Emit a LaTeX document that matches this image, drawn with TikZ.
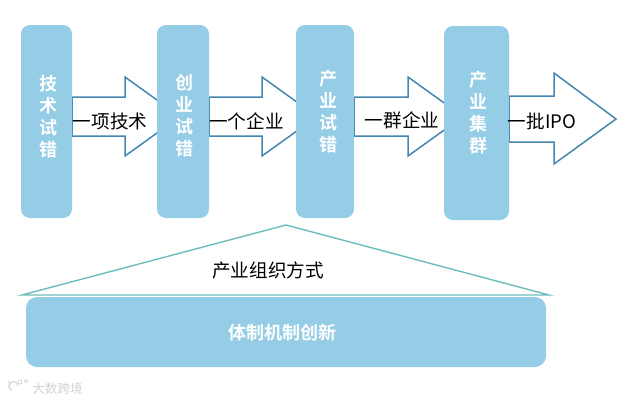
\documentclass[tikz,border=0pt]{standalone}
\usepackage{fontspec}
\newfontfamily\cjk{Noto Sans CJK SC}
\newfontfamily\cjkb{Noto Sans CJK SC Bold}
\usetikzlibrary{backgrounds}
\definecolor{boxblue}{HTML}{94CDE5}
\definecolor{arrowblue}{HTML}{4586B0}
\definecolor{roofteal}{HTML}{6DBDBD}
\definecolor{markgray}{HTML}{D2D2D2}
\tikzset{
  x=1pt,y=-1pt,
  panel/.style={fill=boxblue,rounded corners=9pt,inner sep=0pt,text=white},
  blockarrow/.style={draw=arrowblue,line width=1.5pt,fill=white,line join=miter},
  roof/.style={draw=roofteal,line width=1.4pt,fill=white,line join=miter},
  flowlabel/.style={font=\cjk\fontsize{18.6}{22}\selectfont,text=black,inner sep=0pt},
  panellabel/.style={font=\cjkb\fontsize{18}{22}\selectfont,text=white,align=center,inner sep=0pt},
  wmark/.style={font=\cjk\fontsize{12.6}{14}\selectfont,text=markgray,inner sep=0pt},
}
\begin{document}
\begin{tikzpicture}
\useasboundingbox (0,0) rectangle (625,400);
% panels
\node[panel,minimum width=51pt,minimum height=193pt] (b1) at (46.5,121.5) {};
\node[panel,minimum width=52pt,minimum height=193pt] (b2) at (183,121.5) {};
\node[panel,minimum width=58pt,minimum height=193pt] (b3) at (325,121.5) {};
\node[panel,minimum width=65pt,minimum height=194pt] (b4) at (476.5,123) {};
\node[panel,rounded corners=11pt,minimum width=520pt,minimum height=70pt] (base) at (286,332) {};
% panel texts
\node[panellabel] (t1) at (48,117) {技\\术\\试\\错};
\node[panellabel] (t2) at (184.5,116) {创\\业\\试\\错};
\node[panellabel] (t3) at (328,112) {产\\业\\试\\错};
\node[panellabel] (t4) at (478,113) {产\\业\\集\\群};
\node[panellabel] (t5) at (282,333) {体制机制创新};
% block arrows, behind the panels
\begin{pgfonlayer}{background}
\draw[blockarrow] (b1.east |- 0,97) -- (125,97) -- (125,77) -- (180,116.5) -- (125,156) -- (125,136) -- (b1.east |- 0,136) -- cycle;
\draw[blockarrow] (b2.east |- 0,97) -- (262,97) -- (262,77) -- (317,116.5) -- (262,156) -- (262,136) -- (b2.east |- 0,136) -- cycle;
\draw[blockarrow] (b3.east |- 0,97) -- (408,97) -- (408,77) -- (463,116.5) -- (408,156) -- (408,136) -- (b3.east |- 0,136) -- cycle;
\draw[blockarrow] (b4.east |- 0,96) -- (554,96) -- (554,73) -- (616,119) -- (554,164) -- (554,142) -- (b4.east |- 0,142) -- cycle;
\end{pgfonlayer}
% arrow labels
\node[flowlabel] (l1) at (110,121) {一项技术};
\node[flowlabel] (l2) at (246.5,121) {一个企业};
\node[flowlabel] (l3) at (402,120) {一群企业};
\node[flowlabel] (l4) at (542,121) {一批IPO};
% roof
\coordinate (rl) at (22,295);
\coordinate (rr) at (549,295);
\coordinate (ra) at (286,225);
\draw[roof] (rl) -- (ra) -- (rr) -- cycle;
\node[flowlabel] (l5) at (268,270) {产业组织方式};
% watermark
\node[wmark] (w) at (57.5,388.5) {大数跨境};
\draw[markgray,line width=1pt] (9,381) -- (9,389) (18,386) arc[start angle=0,end angle=-250,radius=4.5];
\draw[markgray,line width=0.7pt] (20,382) circle[radius=2] (26,381) circle[radius=1.6];
\end{tikzpicture}
\end{document}
